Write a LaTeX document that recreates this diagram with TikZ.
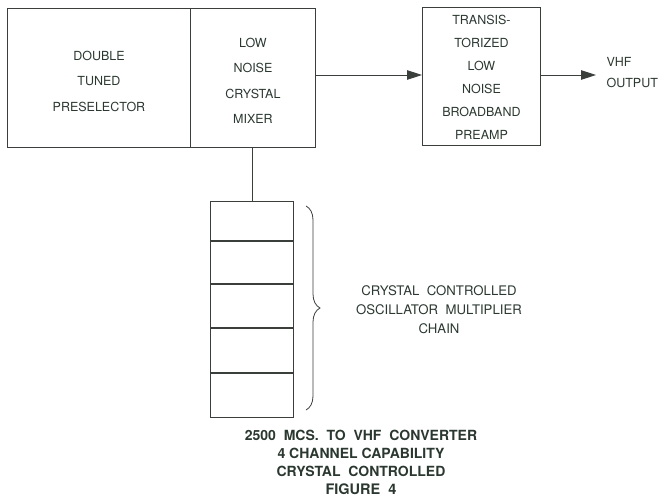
\documentclass[tikz,border=0pt]{standalone}
\usepackage{fontspec}
\setmainfont{TeX Gyre Heros}
\usetikzlibrary{arrows.meta,decorations.pathreplacing}
\definecolor{ink}{HTML}{2B3830}
\definecolor{linec}{HTML}{3A3F3C}
\tikzset{
  blk/.style={draw=linec, line width=0.9pt, inner sep=0pt, anchor=north west},
  lbl/.style={text=ink, font=\fontsize{12.5}{25.5}\selectfont, align=center},
  cell/.style={draw=linec, line width=0.9pt, minimum width=83pt, inner sep=0pt, anchor=north west},
  arr/.style={draw=linec, line width=0.9pt, -{Triangle[length=15pt,width=9.5pt]}},
  wire/.style={draw=linec, line width=0.9pt},
}
\begin{document}
\begin{tikzpicture}[x=1pt,y=-1pt]
\useasboundingbox (0,0) rectangle (661,498);
% main boxes
\node[blk, minimum width=183pt, minimum height=139pt] (pre) at (7,8) {};
\node[lbl] (pretxt) at ([yshift=-3pt]pre.center) {DOUBLE\\TUNED\\PRESELECTOR};
\node[blk, minimum width=125pt, minimum height=139pt] (mix) at (190,8) {};
\node[lbl] (mixtxt) at ([yshift=-3pt]mix.center) {LOW\\NOISE\\CRYSTAL\\MIXER};
\node[blk, minimum width=118pt, minimum height=138pt] (amp) at (422,7) {};
\node[lbl, font=\fontsize{12.5}{23}\selectfont] (amptxt) at ([yshift=-1pt]amp.center) {TRANSIS-\\TORIZED\\LOW\\NOISE\\BROADBAND\\PREAMP};
% chain
\node[cell, minimum height=39pt] (c1) at (210,201) {};
\node[cell, minimum height=42pt] (c2) at (c1.south west) {};
\node[cell, minimum height=43pt] (c3) at (c2.south west) {};
\node[cell, minimum height=44pt] (c4) at (c3.south west) {};
\node[cell, minimum height=44pt] (c5) at (c4.south west) {};
% connectors
\draw[arr] (mix.east |- 0,75) -- (amp.west |- 0,75);
\coordinate (out) at (596,75);
\draw[arr] (amp.east |- out) -- (out);
\draw[wire] (c1.north |- mix.south) -- (c1.north);
% output label
\node[lbl, align=left, anchor=west, font=\fontsize{12.5}{21}\selectfont] (vhf) at (603,73) {VHF\\OUTPUT};
% brace
\coordinate (bt) at (306,206);
\coordinate (bb) at (306,410);
\draw[wire, line width=0.8pt, decorate, decoration={brace, amplitude=14pt}] (bt) -- (bb);
\node[lbl, font=\fontsize{13.2}{19}\selectfont] (chaintxt) at (439,310) {CRYSTAL\ \ CONTROLLED\\OSCILLATOR\ \ MULTIPLIER\\CHAIN};
% caption
\node[lbl, font=\bfseries\fontsize{14}{18}\selectfont] (cap) at (361,462) {2500\ \ MCS.\ \ TO\ \ VHF\ \ CONVERTER\\4\ CHANNEL\ CAPABILITY\\CRYSTAL\ \ CONTROLLED\\{\fontsize{14.5}{18}\selectfont FIGURE\ \ 4}};
\end{tikzpicture}
\end{document}
